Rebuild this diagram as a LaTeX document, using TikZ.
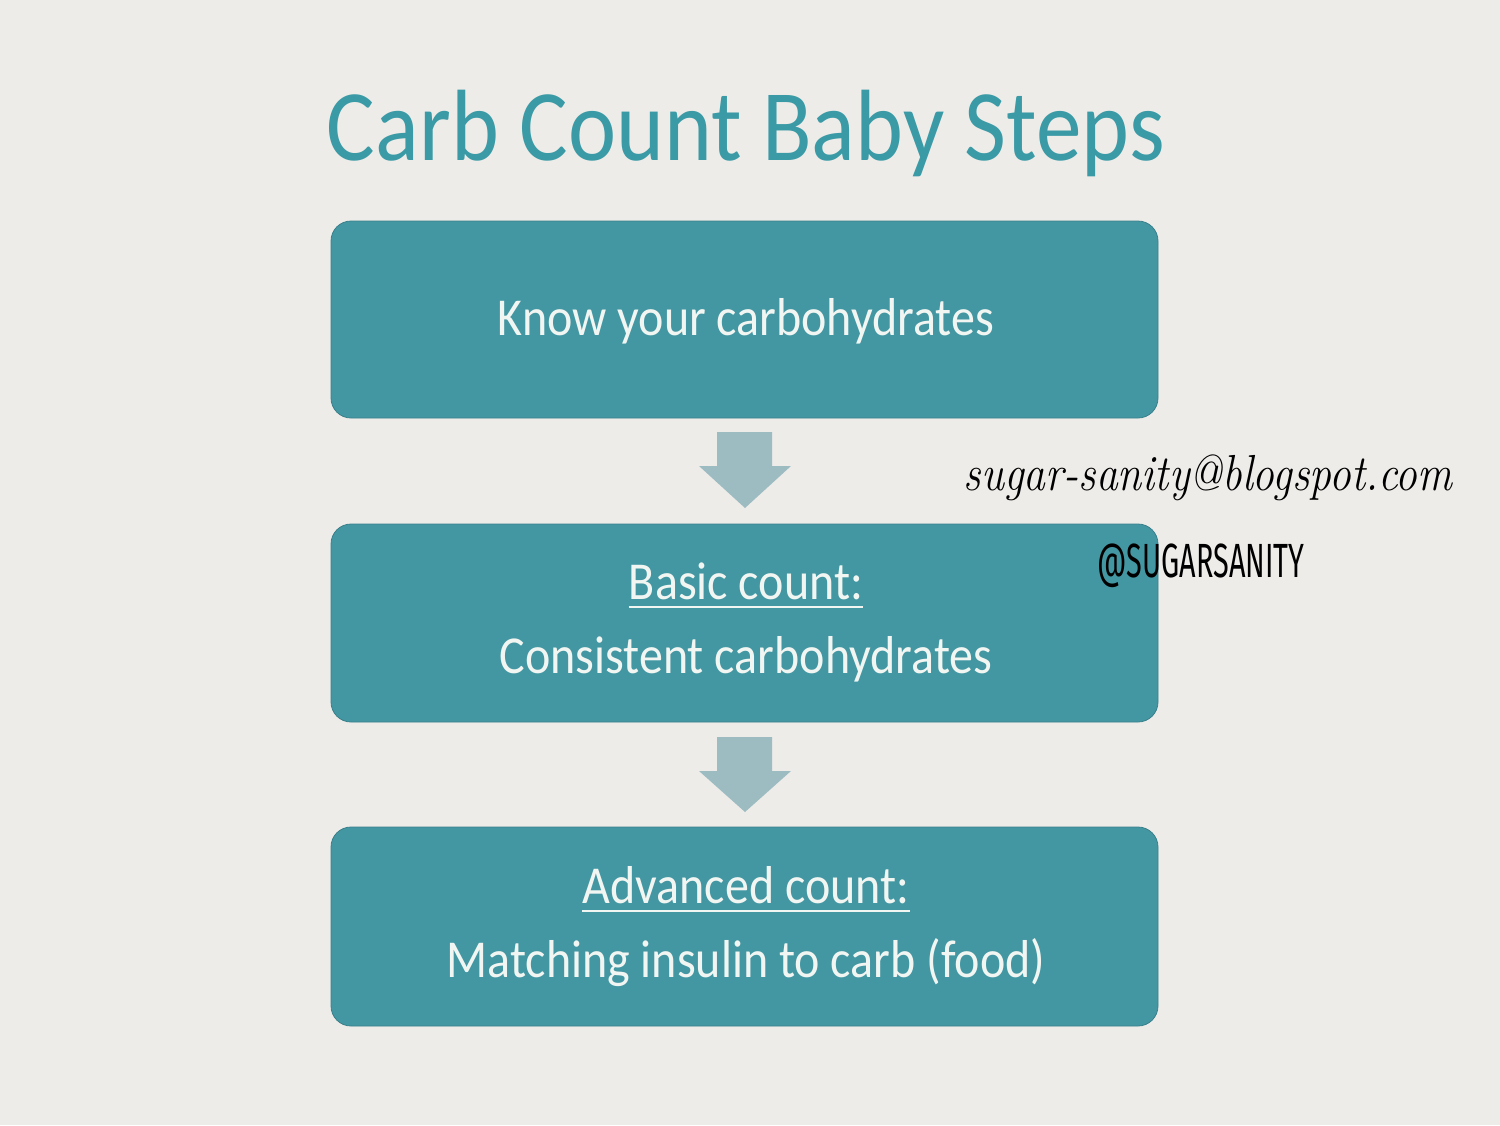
\documentclass[tikz,border=0pt]{standalone}
\usepackage{fontspec}
\setmainfont{Carlito}
\newfontfamily\scriptfnt{Latin Modern Roman}
\newfontfamily\tagfnt{Fira Sans}
\definecolor{bgc}{HTML}{EEECE9}
\definecolor{boxteal}{HTML}{4397A3}
\definecolor{titleteal}{HTML}{3A9AA5}
\definecolor{arrowc}{HTML}{9DBCC2}
\definecolor{txtw}{HTML}{F2F6F2}
\tikzset{
  stepbox/.style={fill=boxteal, draw=boxteal!85!black, line width=0.6pt, rounded corners=15pt},
  boxtxt/.style={text=txtw, font=\fontsize{40}{46}\selectfont, inner sep=0pt, anchor=base, xscale=0.9},
  downarrow/.style={fill=arrowc, draw=none},
  uline/.style={txtw, line width=2.2pt}
}
\begin{document}
\begin{tikzpicture}[x=0.75pt,y=-0.75pt]
\fill[bgc] (0,0) rectangle (1500,1125);
\useasboundingbox (0,0) rectangle (1500,1125);
% title
\node[text=titleteal, font=\fontsize{76}{80}\selectfont, inner sep=0pt, anchor=base, xscale=0.9] (title) at (746,160) {Carb Count Baby Steps};
% boxes
\node[stepbox, minimum width=827*0.75pt, minimum height=197*0.75pt, inner sep=0pt] (box1) at (744.5,319.5) {};
\node[stepbox, minimum width=827*0.75pt, minimum height=198*0.75pt, inner sep=0pt] (box2) at (744.5,623) {};
\node[stepbox, minimum width=827*0.75pt, minimum height=199*0.75pt, inner sep=0pt] (box3) at (744.5,926.5) {};
% texts
\node[boxtxt] (t1) at (746,335) {Know your carbohydrates};
\node[boxtxt] (t2a) at (746,599) {Basic count:};
\draw[uline] ([yshift=-6pt]t2a.base west) -- ([yshift=-6pt]t2a.base east);
\node[boxtxt] (t2b) at (746,673) {Consistent carbohydrates};
\node[boxtxt] (t3a) at (746,903) {Advanced count:};
\draw[uline] ([yshift=-6pt]t3a.base west) -- ([yshift=-6pt]t3a.base east);
\node[boxtxt] (t3b) at (746,977) {Matching insulin to carb (food)};
% arrows
\fill[downarrow] (717,432) -- (772,432) -- (772,466) -- (791,466) -- (745,508) -- (699,466) -- (717,466) -- cycle;
\fill[downarrow] (717,737) -- (772,737) -- (772,771) -- (791,771) -- (745,812) -- (699,771) -- (717,771) -- cycle;
% watermark
\node[inner sep=0pt, anchor=base, xscale=0.86, font=\scriptfnt\itshape\fontsize{38}{42}\selectfont] (wm1) at (1208,490) {sugar-sanity@blogspot.com};
\node[inner sep=0pt, anchor=base, xscale=0.6, font=\tagfnt\fontsize{36}{40}\selectfont] (wm2) at (1201,577) {@SUGARSANITY};
\end{tikzpicture}
\end{document}
